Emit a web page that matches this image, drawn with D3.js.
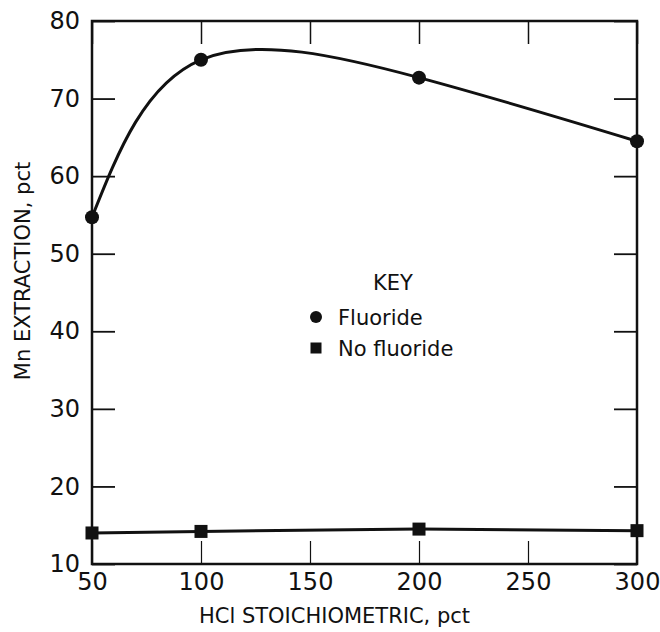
<!DOCTYPE html>
<html>
<head>
<meta charset="utf-8">
<script src="https://cdn.jsdelivr.net/npm/d3@7"></script>
<style>
  body { margin: 0; background: #fff; }
  svg text { font-family: "DejaVu Sans", sans-serif; fill: #111; }
</style>
</head>
<body>
<div id="chart-area"></div>
<script>
// data
const xValues = [50, 100, 200, 300];
const fluoride = [54.7, 75.0, 72.7, 64.5];
const noFluoride = [14.0, 14.2, 14.5, 14.3];
const xTicks = [50, 100, 150, 200, 250, 300];
const yTicks = [10, 20, 30, 40, 50, 60, 70, 80];
const keyLabels = ["Fluoride", "No fluoride"];

const W = 660, H = 632;
const margin = { left: 92, right: 23, top: 21, bottom: 68 };
const width = W - margin.left - margin.right,
  height = H - margin.top - margin.bottom;

const svg = d3.select("#chart-area").append("svg")
  .attr("width", W)
  .attr("height", H);

const g = svg.append("g")
  .attr("transform", `translate(${margin.left}, ${margin.top})`);

const x = d3.scaleLinear().domain([50, 300]).range([0, width]);
const y = d3.scaleLinear().domain([10, 80]).range([height, 0]);

// ticks point inward on all four sides
const tickLen = 23;
const axisStyle = (sel, w) => {
  sel.select(".domain").remove();
  sel.selectAll(".tick line").attr("stroke", "#111").attr("stroke-width", w);
};

g.append("g")
  .attr("transform", `translate(0, ${height})`)
  .call(d3.axisBottom(x).tickValues(xTicks).tickSizeInner(-tickLen).tickPadding(9))
  .call(axisStyle, 1.2)
  .selectAll("text").attr("font-size", "24px").attr("font-family", "DejaVu Sans");

g.append("g")
  .call(d3.axisTop(x).tickValues(xTicks).tickSizeInner(-tickLen).tickFormat(""))
  .call(axisStyle, 1.5);

g.append("g")
  .call(d3.axisLeft(y).tickValues(yTicks).tickSizeInner(-tickLen).tickPadding(12))
  .call(axisStyle, 1.8)
  .selectAll("text").attr("font-size", "24px").attr("font-family", "DejaVu Sans");

g.append("g")
  .attr("transform", `translate(${width}, 0)`)
  .call(d3.axisRight(y).tickValues(yTicks).tickSizeInner(-tickLen).tickFormat(""))
  .call(axisStyle, 1.8);

// frame
g.append("rect")
  .attr("width", width)
  .attr("height", height)
  .attr("fill", "none")
  .attr("stroke", "#111")
  .attr("stroke-width", 2.5);

// axis titles
g.append("text")
  .attr("x", width / 2 - 30)
  .attr("y", height + 59)
  .attr("text-anchor", "middle")
  .attr("font-size", "21px")
  .text("HCl STOICHIOMETRIC, pct");

g.append("text")
  .attr("transform", "rotate(-90)")
  .attr("x", -(271 - margin.top))
  .attr("y", -62)
  .attr("text-anchor", "middle")
  .attr("font-size", "21px")
  .text("Mn EXTRACTION, pct");

// lines
const fluoData = xValues.map((d, i) => [d, fluoride[i]]);
const noFluoData = xValues.map((d, i) => [d, noFluoride[i]]);

const line = d3.line()
  .x(d => x(d[0]))
  .y(d => y(d[1]))
  .curve(d3.curveNatural);

g.append("path")
  .datum(fluoData)
  .attr("fill", "none")
  .attr("stroke", "#111")
  .attr("stroke-width", 3)
  .attr("d", line);

g.append("path")
  .datum(noFluoData)
  .attr("fill", "none")
  .attr("stroke", "#111")
  .attr("stroke-width", 3)
  .attr("d", line.curve(d3.curveLinear));

g.selectAll(".dot")
  .data(fluoData)
  .enter().append("circle")
  .attr("cx", d => x(d[0]))
  .attr("cy", d => y(d[1]))
  .attr("r", 7)
  .attr("fill", "#111");

const sq = 13;
g.selectAll(".sq")
  .data(noFluoData)
  .enter().append("rect")
  .attr("x", d => x(d[0]) - sq / 2)
  .attr("y", d => y(d[1]) - sq / 2)
  .attr("width", sq)
  .attr("height", sq)
  .attr("fill", "#111");

// key
const key = svg.append("g").attr("transform", "translate(316, 290)");
key.append("text")
  .attr("x", 77)
  .attr("y", 0)
  .attr("text-anchor", "middle")
  .attr("font-size", "21px")
  .text("KEY");

keyLabels.forEach((v, i) => {
  const ky = 27 + i * 31;
  if (i === 0) {
    key.append("circle").attr("cx", 0).attr("cy", ky).attr("r", 6).attr("fill", "#111");
  } else {
    key.append("rect").attr("x", -5.5).attr("y", ky - 5.5).attr("width", 11).attr("height", 11).attr("fill", "#111");
  }
  key.append("text")
    .attr("x", 22)
    .attr("y", ky + 8)
    .attr("font-size", "21px")
    .text(v);
});
</script>
</body>
</html>
